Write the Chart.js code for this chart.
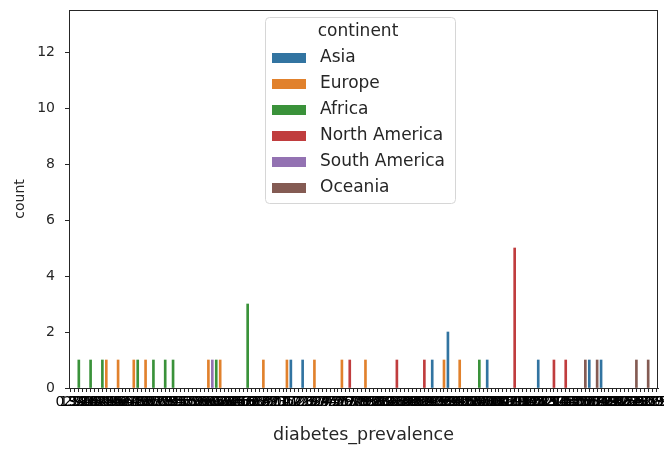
<!DOCTYPE html>
<html>
<head>
<meta charset="utf-8">
<script src="https://cdn.jsdelivr.net/npm/chart.js@4.4.1/dist/chart.umd.min.js"></script>
<style>
    html, body { margin: 0; padding: 0; background: #fff; }
</style>
</head>
<body>
<canvas id="countChart" width="664" height="450"></canvas>
<script>
// diabetes_prevalence categories (x axis, sorted as seaborn does)
const prevalence = [
    '0.99', '1.91', '2.42', '3.28', '3.38', '3.67', '3.94', '4.28', '4.29', '4.35',
    '4.36', '4.42', '4.55', '4.61', '4.64', '4.76', '4.79', '4.86', '4.91', '4.97',
    '5.07', '5.09', '5.18', '5.29', '5.31', '5.34', '5.41', '5.52', '5.55', '5.59',
    '5.72', '5.75', '5.81', '5.83', '5.99', '6.05', '6.08', '6.18', '6.28', '6.32',
    '6.35', '6.41', '6.47', '6.53', '6.62', '6.68', '6.73', '6.74', '6.8', '6.82',
    '6.91', '6.93', '7.04', '7.05', '7.11', '7.17', '7.2', '7.21', '7.26', '7.29',
    '7.32', '7.37', '7.39', '7.4', '7.44', '7.47', '7.52', '7.55', '7.59', '7.63',
    '7.67', '7.71', '7.75', '7.8', '7.85', '7.92', '7.98', '8.03', '8.09', '8.14',
    '8.2', '8.26', '8.31', '8.35', '8.38', '8.42', '8.46', '8.52', '8.59', '8.64',
    '8.77', '8.83', '8.89', '9.06', '9.19', '9.24', '9.26', '9.31', '9.42', '9.46',
    '9.59', '9.65', '9.74', '9.85', '9.88', '10.08', '10.18', '10.31', '10.39', '10.43',
    '10.59', '10.79', '10.99', '11.06', '11.17', '11.26', '11.45', '11.62', '11.82', '12.13',
    '12.21', '12.52', '12.74', '13.0', '13.14', '13.57', '14.2', '14.55', '15.02', '15.27',
    '15.53', '15.68', '15.84', '16.28', '16.49', '16.74', '17.26', '17.72', '18.35', '19.1',
    '19.61', '20.59', '21.23', '22.02', '22.35', '23.36', '24.79', '25.29', '27.89', '30.53'
];

const continents = ['Asia', 'Europe', 'Africa', 'North America', 'South America', 'Oceania'];
const continentColors = ['#3274a1', '#e1812c', '#3a923a', '#c03d3e', '#9372b2', '#845b53'];

// where each continent has a bar, and its count
const asiaAt = ['7.2', '7.29', '8.89', '9.26', '10.18', '12.13', '15.84', '16.74'];
const asiaCount = [1, 1, 1, 2, 1, 1, 1, 1];
const europeAt = ['4.35', '4.55', '4.79', '4.97', '6.05', '6.28', '6.82', '7.17', '7.39', '7.63', '7.92', '9.24', '9.46'];
const europeCount = [1, 1, 1, 1, 1, 1, 1, 1, 1, 1, 1, 1, 1];
const africaAt = ['2.42', '3.67', '4.29', '4.86', '5.09', '5.31', '5.41', '6.18', '6.68', '9.88'];
const africaCount = [1, 1, 1, 1, 1, 1, 1, 1, 3, 1];
const northAmericaAt = ['7.71', '8.35', '8.77', '11.06', '13.0', '14.2'];
const northAmericaCount = [1, 1, 1, 5, 1, 1];
const southAmericaAt = ['6.08'];
const southAmericaCount = [1];
const oceaniaAt = ['15.68', '16.49', '22.35', '25.29'];
const oceaniaCount = [1, 1, 1, 1];

const yTicks = [0, 2, 4, 6, 8, 10, 12];

const barsAt = [asiaAt, europeAt, africaAt, northAmericaAt, southAmericaAt, oceaniaAt];
const barsCount = [asiaCount, europeCount, africaCount, northAmericaCount, southAmericaCount, oceaniaCount];

const FONT = 'DejaVu Sans';
const INK = '#262626';

// matplotlib-style box around the axes
const frame = {
    id: 'frame',
    afterDraw(chart) {
        const { ctx, chartArea: a } = chart;
        ctx.save();
        ctx.strokeStyle = INK;
        ctx.lineWidth = 1;
        ctx.strokeRect(Math.round(a.left) + 0.5, Math.round(a.top) + 0.5,
            Math.round(a.right - a.left) - 1, Math.round(a.bottom - a.top));
        ctx.restore();
    }
};

// legend box drawn inside the axes, upper centre, like seaborn's
const insideLegend = {
    id: 'insideLegend',
    afterDraw(chart) {
        const ctx = chart.ctx;
        const x = 265, y = 17, w = 190, h = 186;
        ctx.save();
        ctx.beginPath();
        ctx.roundRect(x + 0.5, y + 0.5, w, h, 4);
        ctx.fillStyle = 'rgba(255,255,255,0.85)';
        ctx.fill();
        ctx.strokeStyle = '#d6d6d6';
        ctx.lineWidth = 1;
        ctx.stroke();

        ctx.fillStyle = INK;
        ctx.font = '17px "' + FONT + '"';
        ctx.textBaseline = 'middle';
        ctx.textAlign = 'center';
        ctx.fillText('continent', 358, 32);

        ctx.textAlign = 'left';
        chart.data.datasets.forEach((ds, i) => {
            const ry = 58 + i * 26;
            ctx.fillStyle = ds.backgroundColor;
            ctx.fillRect(272, ry - 5, 34, 10);
            ctx.fillStyle = INK;
            ctx.fillText(ds.label, 320, ry);
        });
        ctx.restore();
    }
};

new Chart(document.getElementById('countChart'), {
    type: 'bar',
    data: {
        labels: prevalence,
        datasets: continents.map((name, i) => ({
            label: name,
            data: barsAt[i].map((v, j) => ({ x: v, y: barsCount[i][j] })),
            backgroundColor: continentColors[i],
            borderWidth: 0,
            barThickness: 2
        }))
    },
    options: {
        responsive: false,
        animation: false,
        devicePixelRatio: 1,
        layout: { padding: { top: 10, right: 6, left: 12, bottom: 0 } },
        plugins: {
            legend: { display: false },
            tooltip: { enabled: false }
        },
        scales: {
            x: {
                stacked: true,
                grid: { display: true, drawOnChartArea: false, offset: false, tickLength: 4, color: INK },
                border: { color: INK },
                ticks: {
                    autoSkip: false,
                    maxRotation: 0,
                    minRotation: 0,
                    padding: 2,
                    color: '#000',
                    font: { family: FONT, size: 14 }
                },
                title: {
                    display: true,
                    text: 'diabetes_prevalence',
                    color: INK,
                    font: { family: FONT, size: 17.5 },
                    padding: { top: 5 }
                },
                afterFit(scale) {
                    scale.height = 62;
                    scale.paddingLeft = 0;
                    scale.paddingRight = 0;
                }
            },
            y: {
                stacked: true,
                min: 0,
                max: 13.5,
                afterBuildTicks(scale) {
                    scale.ticks = yTicks.map(v => ({ value: v }));
                },
                grid: { display: true, drawOnChartArea: false, tickLength: 4, color: INK },
                border: { color: INK },
                ticks: {
                    color: INK,
                    padding: 10,
                    font: { family: FONT, size: 14 }
                },
                title: {
                    display: true,
                    text: 'count',
                    color: INK,
                    font: { family: FONT, size: 14 },
                    padding: 0
                },
                afterFit(scale) {
                    scale.width = 57;
                    scale.paddingTop = 0;
                    scale.paddingBottom = 0;
                }
            }
        }
    },
    plugins: [frame, insideLegend]
});
</script>
</body>
</html>
